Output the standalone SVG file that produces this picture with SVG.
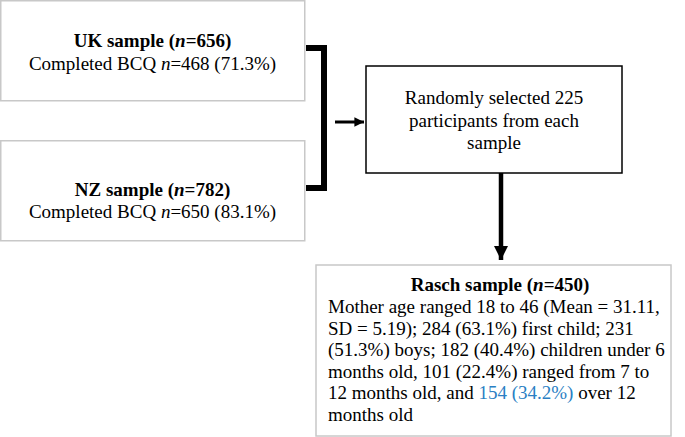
<svg xmlns="http://www.w3.org/2000/svg" width="685" height="437" viewBox="0 0 685 437">
<style>
text{font-family:"Liberation Serif","Times New Roman",serif;font-size:19px;fill:#000}
.b{font-weight:bold}
.c{text-anchor:middle}
.gray{fill:#fff;stroke:#c8c8c8;stroke-width:1.5}
.blk{fill:#fff;stroke:#000;stroke-width:1.5}
.blue{fill:#2a7fc4}
</style>
<defs>
<marker id="ah" viewBox="0 0 10 10" refX="10" refY="5" markerWidth="3.2" markerHeight="3.2" orient="auto" markerUnits="strokeWidth">
<path d="M0,0 L10,5 L0,10 z" fill="#000"/>
</marker>
</defs>
<rect width="685" height="437" fill="#fff"/>
<g id="uk">
<rect class="gray" x="0.75" y="0.75" width="304" height="100"/>
<text class="c" x="152.5" y="47"><tspan class="b">UK sample (<tspan font-style="italic">n</tspan>=656)</tspan></text>
<text class="c" x="152.5" y="70">Completed BCQ <tspan font-style="italic">n</tspan>=468 (71.3%)</text>
</g>
<g id="nz">
<rect class="gray" x="0.75" y="140.75" width="304" height="100"/>
<text class="c" x="152.5" y="196"><tspan class="b">NZ sample (<tspan font-style="italic">n</tspan>=782)</tspan></text>
<text class="c" x="152.5" y="218">Completed BCQ <tspan font-style="italic">n</tspan>=650 (83.1%)</text>
</g>
<g id="random">
<rect class="blk" x="366" y="66" width="256" height="107"/>
<text class="c" x="494" y="104">Randomly selected 225</text>
<text class="c" x="494" y="127">participants from each</text>
<text class="c" x="494" y="149">sample</text>
</g>
<g id="rasch">
<rect class="gray" x="316" y="265" width="355" height="171"/>
<text class="c b" x="500" y="291">Rasch sample (<tspan font-style="italic">n</tspan>=450)</text>
<text x="328" y="313">Mother age ranged 18 to 46 (Mean = 31.11,</text>
<text x="328" y="334.5">SD = 5.19); 284 (63.1%) first child; 231</text>
<text x="328" y="356">(51.3%) boys; 182 (40.4%) children under 6</text>
<text x="328" y="377.5">months old, 101 (22.4%) ranged from 7 to</text>
<text x="328" y="399">12 months old, and <tspan class="blue">154 (34.2%)</tspan> over 12</text>
<text x="328" y="420.5">months old</text>
</g>
<g id="connectors" fill="none" stroke="#000">
<path d="M306,48 H324 V188 H306" stroke-width="6" stroke-linejoin="miter"/>
<line x1="335" y1="122" x2="364" y2="122" stroke-width="3" marker-end="url(#ah)"/>
<line x1="501" y1="173" x2="501" y2="260" stroke-width="4.5" marker-end="url(#ah)"/>
</g>
</svg>
